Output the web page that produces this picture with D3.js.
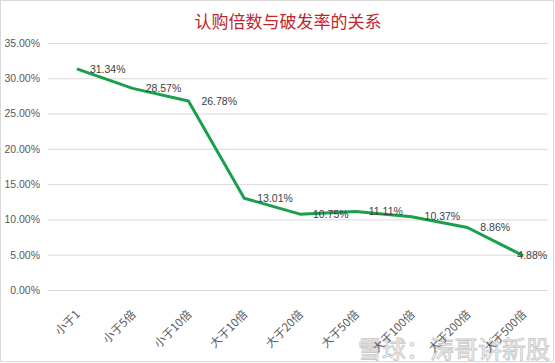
<!DOCTYPE html>
<html>
<head>
<meta charset="utf-8">
<script src="https://cdn.jsdelivr.net/npm/d3@7"></script>
<style>
  body { margin: 0; background: #fff; }
  text { font-family: "Noto Sans CJK SC", "Liberation Sans", sans-serif; }
</style>
</head>
<body>
<div id="chart"></div>
<script>
// Chart data
const categories = ['小于1', '小于5倍', '小于10倍', '大于10倍', '大于20倍', '大于50倍', '大于100倍', '大于200倍', '大于500倍'];
const rates = [0.3134, 0.2857, 0.2678, 0.1301, 0.1075, 0.1111, 0.1037, 0.0886, 0.0488];
const yTicks = [0, 0.05, 0.10, 0.15, 0.20, 0.25, 0.30, 0.35];
const title = '认购倍数与破发率的关系';

const W = 555, H = 363;

const svg = d3.select('#chart')
    .append('svg')
    .attr('width', W)
    .attr('height', H);

// Outer border
svg.append('rect')
    .attr('x', 0.5).attr('y', 0.5)
    .attr('width', W - 2).attr('height', H - 2)
    .attr('fill', '#fff')
    .attr('stroke', '#d9d9d9');

// Scales
const x = d3.scaleBand()
    .domain(categories)
    .range([49, 551]);

const y = d3.scaleLinear()
    .domain([0, 0.35])
    .range([290, 43]);

const cx = d => x(d) + x.bandwidth() / 2;

// Gridlines + y labels
const yAxis = svg.append('g')
    .attr('transform', 'translate(48,0)')
    .call(d3.axisLeft(y)
        .tickValues(yTicks)
        .tickSize(-500)
        .tickPadding(8)
        .tickFormat(d3.format('.2%')));
yAxis.select('.domain').remove();
yAxis.selectAll('.tick line').attr('stroke', '#d9d9d9');
yAxis.selectAll('.tick text')
    .attr('fill', '#595959')
    .style('font-family', '"Liberation Sans", sans-serif')
    .style('font-size', '10.5px');

// Watermark (drawn under the axis labels)
svg.append('text')
    .attr('x', 550)
    .attr('y', 358)
    .attr('text-anchor', 'end')
    .attr('fill', '#f4f4f4')
    .attr('stroke', '#c8c8c8')
    .attr('stroke-width', 0.8)
    .style('font-size', '24px')
    .text('雪球：涛哥讲新股');

// X category labels, rotated
svg.append('g')
    .selectAll('text')
    .data(categories)
    .enter()
    .append('text')
    .attr('transform', d => `translate(${cx(d) + 4},315) rotate(-45)`)
    .attr('text-anchor', 'end')
    .attr('fill', '#595959')
    .style('font-size', '11.5px')
    .text(d => d);

// Line
const line = d3.line()
    .x((d, i) => cx(categories[i]))
    .y(d => y(d));

svg.append('path')
    .datum(rates)
    .attr('d', line)
    .attr('fill', 'none')
    .attr('stroke', '#1aa04b')
    .attr('stroke-width', 3)
    .attr('stroke-linejoin', 'round');

// Data labels (right of points; last one pulled back to fit)
const last = rates.length - 1;
svg.append('g')
    .selectAll('text')
    .data(rates)
    .enter()
    .append('text')
    .attr('x', (d, i) => i === last ? cx(categories[i]) + 24 : cx(categories[i]) + 13)
    .attr('y', d => y(d))
    .attr('dy', '0.35em')
    .attr('text-anchor', (d, i) => i === last ? 'end' : 'start')
    .attr('fill', '#404040')
    .style('font-family', '"Liberation Sans", sans-serif')
    .style('font-size', '10.5px')
    .text(d => d3.format('.2%')(d));

// Title
svg.append('text')
    .attr('x', 288)
    .attr('y', 28)
    .attr('text-anchor', 'middle')
    .attr('fill', '#c0262d')
    .style('font-size', '17px')
    .text(title);
</script>
</body>
</html>
